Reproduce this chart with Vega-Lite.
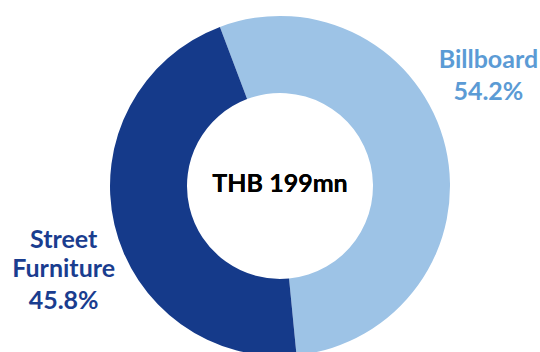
{
  "$schema": "https://vega.github.io/schema/vega-lite/v6.json",
  "width": 520,
  "height": 332,
  "autosize": {"type": "none"},
  "padding": {"left": 20, "top": 20, "right": 0, "bottom": 0},
  "background": "white",
  "config": {"view": {"stroke": null}},
  "data": {
    "values": [
      {"category": "Billboard", "share": 0.542, "rank": 1},
      {"category": "Street Furniture", "share": 0.458, "rank": 2}
    ]
  },
  "layer": [
    {
      "mark": {"type": "arc", "outerRadius": 170, "innerRadius": 93},
      "encoding": {
        "theta": {"field": "share", "type": "quantitative", "stack": true, "scale": {"range": [-0.3613, 5.9219]}},
        "order": {"field": "rank"},
        "color": {
          "field": "category",
          "type": "nominal",
          "scale": {"domain": ["Billboard", "Street Furniture"], "range": ["#9DC3E6", "#153A8A"]},
          "legend": null
        }
      }
    },
    {
      "mark": {
        "type": "text",
        "radius": 215,
        "font": "Lato",
        "fontWeight": 700,
        "fontSize": 25,
        "lineBreak": " ",
        "lineHeight": 29,
        "align": "center",
        "baseline": "middle",
        "dx": {"expr": "datum.category === 'Billboard' ? -1 : -7"},
        "dy": {"expr": "datum.category === 'Billboard' ? -77 : 5"}
      },
      "encoding": {
        "theta": {"field": "share", "type": "quantitative", "stack": true, "scale": {"range": [-0.3613, 5.9219]}},
        "order": {"field": "rank"},
        "text": {"field": "category"},
        "color": {"condition": {"test": "datum.category === 'Billboard'", "value": "#5B9BD5"}, "value": "#1A3D8F"}
      }
    },
    {
      "mark": {
        "type": "text",
        "radius": 215,
        "font": "Lato",
        "fontWeight": 700,
        "fontSize": 25,
        "align": "center",
        "baseline": "middle",
        "dx": {"expr": "datum.category === 'Billboard' ? -1 : -7"},
        "dy": {"expr": "datum.category === 'Billboard' ? -45 : 66"}
      },
      "encoding": {
        "theta": {"field": "share", "type": "quantitative", "stack": true, "scale": {"range": [-0.3613, 5.9219]}},
        "order": {"field": "rank"},
        "text": {"field": "share", "format": ".1%"},
        "color": {"condition": {"test": "datum.category === 'Billboard'", "value": "#5B9BD5"}, "value": "#1A3D8F"}
      }
    },
    {
      "mark": {
        "type": "text",
        "text": "THB 199mn",
        "font": "Lato",
        "fontWeight": 700,
        "fontSize": 25,
        "align": "center",
        "baseline": "middle",
        "color": "#000000",
        "dy": -2
      }
    }
  ]
}
